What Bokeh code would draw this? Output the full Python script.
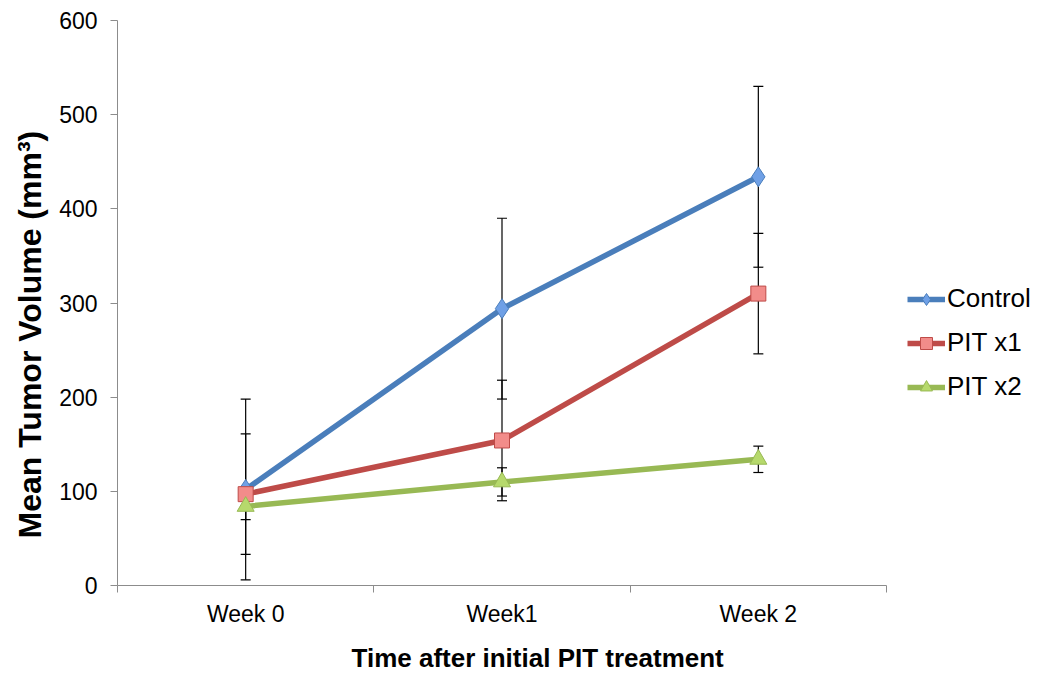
from bokeh.plotting import figure
from bokeh.models import (ColumnDataSource, Whisker, TeeHead, FixedTicker, Legend, LegendItem, Title, Range1d)
from bokeh.embed import file_html
from bokeh.resources import INLINE

weeks = ["Week 0", "Week1", "Week 2"]
control = [102, 294, 434]
control_err = [96, 96, 96]
pit_x1 = [97, 154, 310]
pit_x1_err = [64, 64, 64]
pit_x2 = [84, 110, 134]
pit_x2_err = [14, 15, 14]
y_ticks = [0, 100, 200, 300, 400, 500, 600]

FONT = "Liberation Sans"

p = figure(frame_width=769, frame_height=565, output_backend="svg", toolbar_location=None,
           x_range=Range1d(-0.5, len(weeks) - 0.5), y_range=Range1d(0, 600),
           min_border_left=117, min_border_top=20, min_border_right=150, min_border_bottom=70)
p.outline_line_color = None
p.grid.visible = False
p.background_fill_color = "white"
p.border_fill_color = "white"

xs = list(range(len(weeks)))

series = [
    ("Control", control, control_err, "#4A7EBB", "diamond", "#6FA0E6", 20),
    ("PIT x1", pit_x1, pit_x1_err, "#BE4B48", "square", "#F28C8A", 15),
    ("PIT x2", pit_x2, pit_x2_err, "#98B954", "triangle", "#B6D96C", 17),
]

for name, vals, errs, lc, mk, fc, sz in series:
    src = ColumnDataSource(dict(x=xs, upper=[v + e for v, e in zip(vals, errs)],
                                lower=[v - e for v, e in zip(vals, errs)]))
    w = Whisker(base="x", upper="upper", lower="lower", source=src, dimension="height",
                line_color="black", line_width=1.2,
                upper_head=TeeHead(size=10, line_color="black", line_width=1.2),
                lower_head=TeeHead(size=10, line_color="black", line_width=1.2))
    p.add_layout(w)

items = []
for name, vals, errs, lc, mk, fc, sz in series:
    src = ColumnDataSource(dict(x=xs, y=vals))
    ln = p.line("x", "y", source=src, line_color=lc, line_width=5.5)
    sc = p.scatter("x", "y", source=src, marker=mk, size=sz, fill_color=fc, line_color=lc, line_width=1)
    items.append(LegendItem(label=name, renderers=[ln, sc]))

legend = Legend(items=items, location=(21, 183), padding=0, margin=0, spacing=13,
                label_text_font=FONT, label_text_font_size="26px", label_standoff=2,
                label_text_color="black",
                glyph_width=38, glyph_height=30, label_height=26,
                border_line_color=None, background_fill_alpha=0)
p.add_layout(legend, "right")

p.yaxis.ticker = FixedTicker(ticks=y_ticks)
p.yaxis.axis_line_color = "#8C8C8C"
p.yaxis.major_tick_line_color = "#8C8C8C"
p.yaxis.major_tick_out = 7
p.yaxis.major_tick_in = 0
p.yaxis.minor_tick_line_color = None
p.yaxis.major_label_text_font = FONT
p.yaxis.major_label_text_font_size = "23px"
p.yaxis.major_label_text_color = "black"
p.yaxis.major_label_standoff = 13

p.xaxis.ticker = FixedTicker(ticks=xs, minor_ticks=[x - 0.5 for x in xs] + [xs[-1] + 0.5])
p.xaxis.major_label_overrides = {i: w for i, w in enumerate(weeks)}
p.xaxis.axis_line_color = "#8C8C8C"
p.xaxis.major_tick_line_color = None
p.xaxis.minor_tick_line_color = "#8C8C8C"
p.xaxis.minor_tick_out = 7
p.xaxis.minor_tick_in = 0
p.xaxis.major_label_text_font = FONT
p.xaxis.major_label_text_font_size = "23px"
p.xaxis.major_label_text_color = "black"
p.xaxis.major_label_standoff = 8

xt = Title(text="Time after initial PIT treatment", align="left", offset=234,
           text_font=FONT, text_font_size="26px", text_font_style="bold", text_color="black",
           standoff=23)
p.add_layout(xt, "below")

yt = Title(text="Mean Tumor Volume (mm³)", align="left", offset=47,
           text_font=FONT, text_font_size="32px", text_font_style="bold", text_color="black",
           standoff=18)
p.add_layout(yt, "left")

open("out.html", "w").write(file_html(p, INLINE))
